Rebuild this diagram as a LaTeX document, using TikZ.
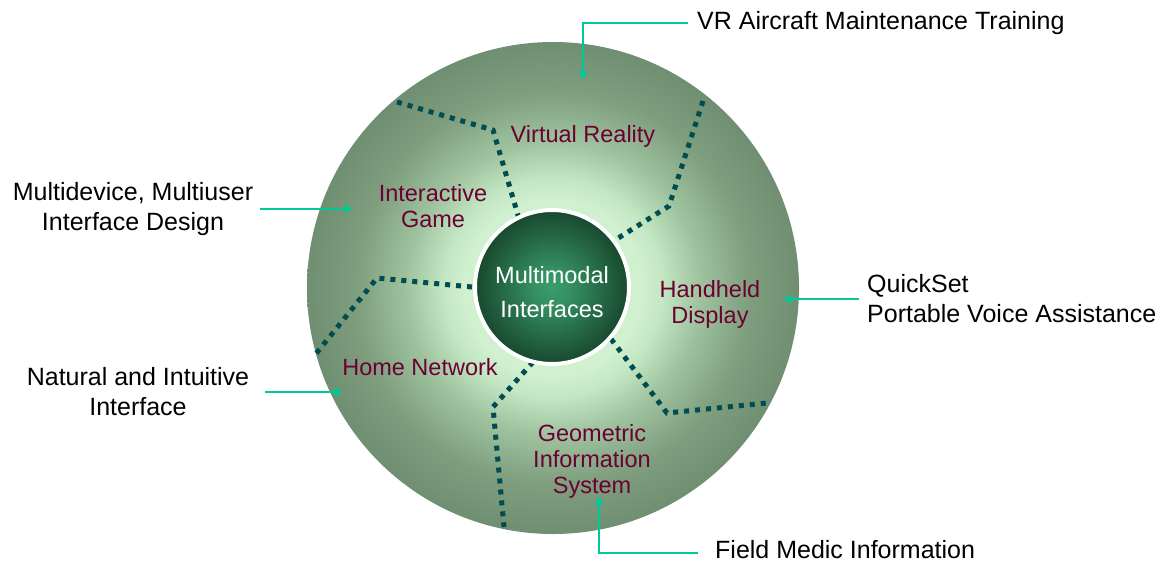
\documentclass[tikz,border=0pt]{standalone}
\usepackage{fontspec}
\setmainfont{Liberation Sans}
\definecolor{discglow}{RGB}{208,240,208}
\definecolor{discsoft}{RGB}{196,231,196}
\definecolor{discmid}{RGB}{158,194,158}
\definecolor{discdeep}{RGB}{126,158,126}
\definecolor{discedge}{RGB}{112,143,114}
\definecolor{corelight}{RGB}{58,156,108}
\definecolor{coredark}{RGB}{24,72,46}
\definecolor{dividerc}{RGB}{0,76,80}
\definecolor{topicc}{RGB}{108,0,50}
\definecolor{calloutc}{RGB}{0,200,150}
% radial shadings: 25bp is the rim of the shaded path
\pgfdeclareradialshading{discshade}{\pgfpoint{0bp}{0bp}}{%
  color(0bp)=(discglow); color(9bp)=(discglow); color(11bp)=(discsoft);
  color(15bp)=(discmid); color(20bp)=(discdeep); color(25bp)=(discedge);
  color(50bp)=(discedge)}
\pgfdeclareradialshading{coreshade}{\pgfpoint{0bp}{0bp}}{%
  color(0bp)=(corelight); color(6bp)=(corelight!85!coredark);
  color(25bp)=(coredark); color(50bp)=(coredark)}
\tikzset{
  divider/.style={draw=dividerc, line width=5pt, dash pattern=on 5pt off 6pt},
  topic/.style={text=topicc, align=center, inner sep=0pt,
    font=\fontsize{23.5}{26}\selectfont},
  outer/.style={text=black, inner sep=0pt, font=\fontsize{25}{30}\selectfont},
  callout/.style={draw=calloutc, line width=2pt},
  calldot/.style={fill=calloutc},
}
\begin{document}
\begin{tikzpicture}[x=1pt, y=-1pt]
  \fill[white] (0,0) rectangle (1164,563);
  \useasboundingbox (0,0) rectangle (1164,563);

  % outer disc
  \shade[shading=discshade] (553,288) circle[radius=246pt];

  % dotted dividers between the application areas
  \coordinate (d1a) at (397,102); \coordinate (d1b) at (493,130); \coordinate (d1c) at (520,222);
  \coordinate (d2a) at (703,101); \coordinate (d2b) at (669,206); \coordinate (d2c) at (612,242);
  \coordinate (d3a) at (472,287); \coordinate (d3b) at (377,278); \coordinate (d3c) at (315,355);
  \coordinate (d4a) at (533,362); \coordinate (d4b) at (493,407); \coordinate (d4c) at (504,527);
  \coordinate (d5a) at (611,339); \coordinate (d5b) at (667,413); \coordinate (d5c) at (767,403);
  \draw[divider] (d1a) -- (d1b) -- (d1c);
  \draw[divider] (d2a) -- (d2b) -- (d2c);
  \draw[divider] (d3a) -- (d3b) -- (d3c);
  \draw[divider] (d4a) -- (d4b) -- (d4c);
  \draw[divider] (d5a) -- (d5b) -- (d5c);

  % core
  \node[circle, shade, shading=coreshade, draw=white, line width=4pt,
        minimum size=154pt, inner sep=0pt] (core) at (552,287) {};
  \node[text=white, align=center, inner sep=0pt,
        font=\fontsize{23.5}{34}\selectfont] (coretxt) at (552,292)
        {Multimodal\\Interfaces};

  % application areas
  \node[topic] (vr)   at (583,136) {Virtual Reality};
  \node[topic] (game) at (433,206) {Interactive\\Game};
  \node[topic] (hand) at (710,304) {Handheld\\Display};
  \node[topic] (home) at (420,367) {Home Network};
  \node[topic] (geo)  at (592,461) {Geometric\\Information\\System};

  % callout anchor dots
  \coordinate (vrdot)  at (583,74);
  \coordinate (mddot)  at (347,209);
  \coordinate (natdot) at (337,392);
  \coordinate (qsdot)  at (789,299);
  \coordinate (fmdot)  at (599,502);

  % project descriptions
  \node[outer, anchor=west] (vrtxt) at (697,23) {VR Aircraft Maintenance Training};
  \node[outer, align=center] (mdtxt) at (133,209) {Multidevice, Multiuser\\Interface Design};
  \node[outer, align=center] (nattxt) at (138,392) {Natural and Intuitive\\Interface};
  \node[outer, align=left, anchor=west] (qstxt) at (867,299) {QuickSet\\Portable Voice Assistance};
  \node[outer, anchor=west] (fmtxt) at (715,550) {Field Medic Information};

  % callout lines
  \draw[callout] (vrdot) |- ([xshift=-9pt]vrtxt.west);
  \draw[callout] (mddot) -- ([xshift=7pt]mdtxt.east);
  \draw[callout] (natdot) -- ([xshift=16pt]nattxt.east);
  \draw[callout] (qsdot) -- ([xshift=-8pt]qstxt.west);
  \draw[callout] (fmdot) |- ([xshift=-17pt,yshift=-3pt]fmtxt.west);
  \foreach \d in {vrdot,mddot,natdot,qsdot,fmdot}
    \fill[calldot] (\d) circle[radius=3.6pt];
\end{tikzpicture}
\end{document}
